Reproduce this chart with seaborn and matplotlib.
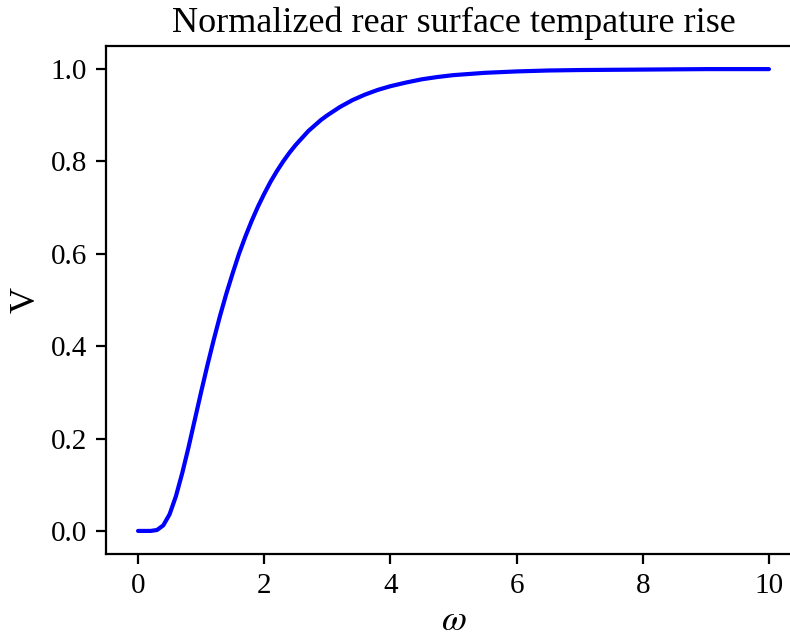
import matplotlib
matplotlib.use("Agg")
import matplotlib.pyplot as plt
import seaborn as sns
import pandas as pd

# Values
omega = [0.0, 0.1, 0.2, 0.3, 0.4, 0.5, 0.6, 0.7, 0.8, 0.9, 1.0, 1.1, 1.2, 1.3,
         1.4, 1.5, 1.6, 1.7, 1.8, 1.9, 2.0, 2.1, 2.2, 2.3, 2.4, 2.5, 2.6, 2.7,
         2.8, 2.9, 3.0, 3.2, 3.4, 3.6, 3.8, 4.0, 4.25, 4.5, 4.75, 5.0, 5.5,
         6.0, 6.5, 7.0, 8.0, 9.0, 10.0]
V = [0.0, 0.0, 0.0, 0.002, 0.012, 0.036, 0.075, 0.125, 0.181, 0.241, 0.301,
     0.359, 0.414, 0.466, 0.514, 0.558, 0.600, 0.637, 0.671, 0.702, 0.730,
     0.756, 0.779, 0.800, 0.819, 0.836, 0.851, 0.866, 0.878, 0.890, 0.900,
     0.918, 0.933, 0.945, 0.955, 0.963, 0.971, 0.978, 0.983, 0.987, 0.992,
     0.995, 0.997, 0.998, 0.999, 1.0, 1.0]

title = "Normalized rear surface tempature rise"
xlabel = r"$\omega$"
ylabel = "V"

df = pd.DataFrame({"omega": omega, "V": V})

sns.set_style("ticks")
plt.rcParams["font.family"] = ["Liberation Serif", "DejaVu Serif"]
plt.rcParams["mathtext.fontset"] = "stix"
plt.rcParams["text.color"] = "black"
plt.rcParams["axes.labelcolor"] = "black"

fig = plt.figure(figsize=(3.95, 3.205), dpi=200)
ax = fig.add_axes([0.1348, 0.1357, 0.8785, 0.7925])
sns.lineplot(data=df, x="omega", y="V", ax=ax, color="#0000ff", linewidth=1.5)
ax.set_xlim(-0.5, 10.5)
ax.set_ylim(-0.05, 1.05)
ax.set_xticks([0, 2, 4, 6, 8, 10])
ax.set_yticks([0.0, 0.2, 0.4, 0.6, 0.8, 1.0])
ax.set_yticklabels(["0.0", "0.2", "0.4", "0.6", "0.8", "1.0"])
ax.tick_params(labelsize=10.5, length=3.5, width=0.8, colors="black")
for s in ax.spines.values():
    s.set_linewidth(0.8)
    s.set_color("black")
    s.set_visible(True)
ax.set_title(title, fontsize=13, color="black", pad=5)
ax.set_xlabel(xlabel, fontsize=13, color="black", labelpad=2)
ax.set_ylabel(ylabel, fontsize=13, color="black", labelpad=3)
fig.savefig("out.png", dpi=200)
